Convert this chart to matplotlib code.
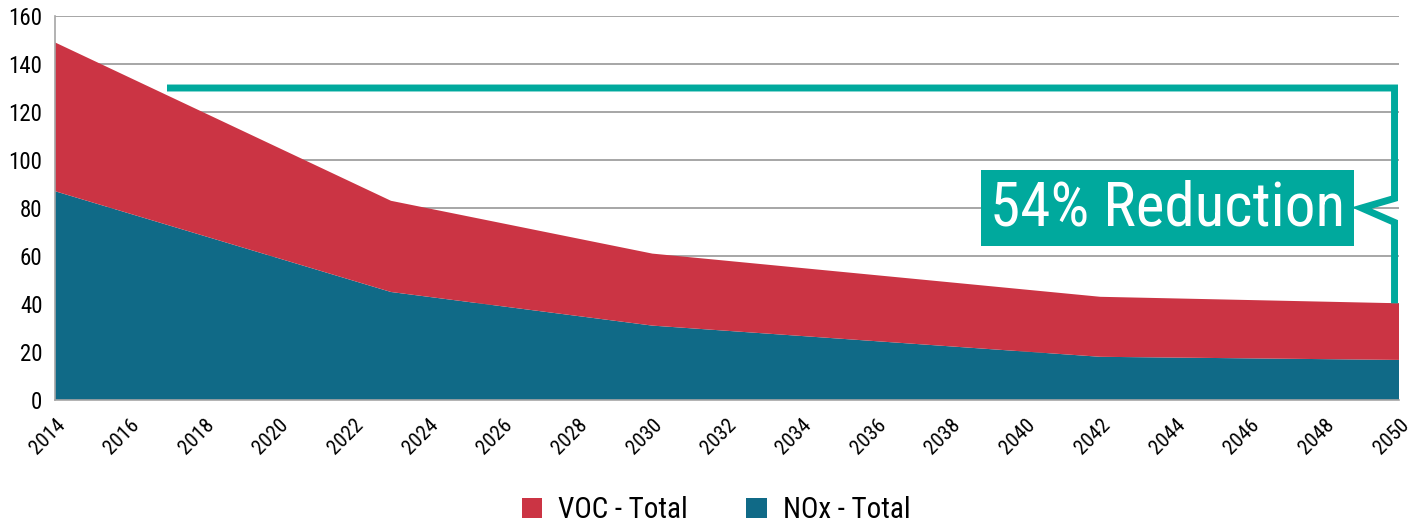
import matplotlib
matplotlib.use("Agg")
import matplotlib.pyplot as plt
from matplotlib.patches import Patch
from matplotlib import font_manager as fm
from matplotlib.font_manager import FontProperties

years = [2014, 2023, 2030, 2042, 2050]
nox_total = [87, 45, 31, 18, 16.7]
voc_total = [62, 38, 30, 25, 23.6]
tick_years = list(range(2014, 2051, 2))
y_ticks = list(range(0, 161, 20))
labels = ["VOC - Total", "NOx - Total"]
callout = "54% Reduction"

RED = "#CB3444"
BLUE = "#106A87"
TEAL = "#00A99D"


def _is_regular(f):
    w = f.weight
    return f.style == "normal" and (w in (400, "normal", "regular", "book", "Regular"))


def _is_condensed(f):
    st = str(f.stretch).lower()
    return ("condensed" in st and "semi" not in st) or "Condensed" in f.name or "Narrow" in f.name


cands = [f for f in fm.fontManager.ttflist if _is_regular(f) and _is_condensed(f)]
order = ["Roboto Condensed", "Liberation Sans Narrow", "Open Sans Condensed",
         "Noto Sans", "DejaVu Sans", "Open Sans", "Roboto"]
chosen = None
for nm in order:
    for f in cands:
        if f.name == nm and "Mono" not in f.fname and "Serif" not in f.fname:
            chosen = f
            break
    if chosen:
        break
if chosen is None:
    sans = [f for f in cands if "Serif" not in f.fname and "Mono" not in f.fname]
    chosen = sans[0] if sans else None


def fp(size):
    if chosen is not None:
        return FontProperties(fname=chosen.fname, size=size)
    return FontProperties(family="DejaVu Sans", size=size)


fig = plt.figure(figsize=(14.12, 5.27), dpi=100)
ax = fig.add_axes([55/1412, 127/527, 1344/1412, 384/527])

ax.stackplot(years, nox_total, voc_total, colors=[BLUE, RED], zorder=2, linewidth=0)

ax.set_xlim(2014, 2050)
ax.set_ylim(0, 160)
ax.set_yticks(y_ticks)
ax.set_xticks(tick_years)
ax.set_xticklabels([str(y) for y in tick_years], rotation=45, ha="right", va="top",
                   rotation_mode="anchor")
for lab in ax.get_xticklabels():
    lab.set_fontproperties(fp(15))
for lab in ax.get_yticklabels():
    lab.set_fontproperties(fp(16.5))
ax.tick_params(axis="y", length=0, pad=9)
ax.tick_params(axis="x", length=0, pad=11)
ax.grid(axis="y", color="#A6A6A6", linewidth=1.4, zorder=1)
ax.set_axisbelow(True)
for s in ["top", "right"]:
    ax.spines[s].set_visible(False)
for s in ["left", "bottom"]:
    ax.spines[s].set_color("#A6A6A6")
    ax.spines[s].set_linewidth(1.2)

# bracket annotation
total = [n + v for n, v in zip(nox_total, voc_total)]
top_y = 130
x_left = 2017
x_right = years[-1] - 0.12
end_y = total[-1]
notch_top, notch_mid, notch_bot = 84, 80, 74
notch_x = 2049.0
bx = [x_left, x_right, x_right, notch_x, x_right, x_right]
by = [top_y, top_y, notch_top, notch_mid, notch_bot, end_y]
ax.plot(bx, by, color=TEAL, linewidth=5, solid_joinstyle="miter", solid_capstyle="butt",
        zorder=4, clip_on=False)

ax.text(2048.55, notch_mid, callout, ha="right", va="center", color="white",
        fontproperties=fp(44), zorder=5,
        bbox=dict(boxstyle="square,pad=0.15", facecolor=TEAL, edgecolor="none"))

handles = [Patch(facecolor=RED, edgecolor="none"), Patch(facecolor=BLUE, edgecolor="none")]
fig.legend(handles, labels, loc="center", bbox_to_anchor=(716/1412, 1 - 510/527),
           ncol=2, frameon=False, prop=fp(21), handlelength=0.7, handleheight=0.7,
           handletextpad=0.55, columnspacing=2.0)

fig.savefig("out.png", dpi=100)
